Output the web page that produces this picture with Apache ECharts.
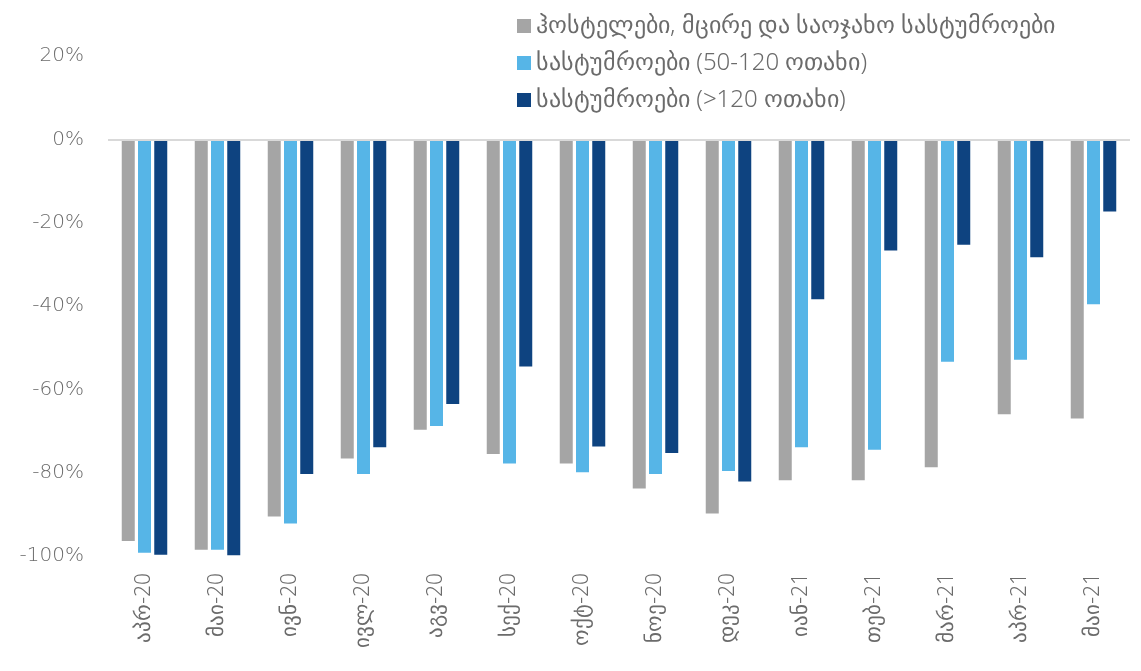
<!DOCTYPE html>
<html>
<head>
<meta charset="utf-8">
<script src="https://cdn.jsdelivr.net/npm/echarts@6/dist/echarts.min.js"></script>
<style>html,body{margin:0;padding:0;background:#fff;}#c{width:1141px;height:671px;}</style>
</head>
<body>
<div id="c"></div>
<script>
const categories = ['აპრ-20','მაი-20','ივნ-20','ივლ-20','აგვ-20','სექ-20','ოქტ-20','ნოე-20','დეკ-20','იან-21','თებ-21','მარ-21','აპრ-21','მაი-21'];
const seriesNames = ['ჰოსტელები, მცირე და საოჯახო სასტუმროები','სასტუმროები (50-120 ოთახი)','სასტუმროები (>120 ოთახი)'];
const hostels = [-96.4,-98.5,-90.5,-76.6,-69.7,-75.5,-77.8,-83.8,-89.8,-81.8,-81.8,-78.7,-66.0,-67.0];
const hotelsMid = [-99.2,-98.5,-92.2,-80.3,-68.8,-77.8,-79.9,-80.3,-79.6,-73.9,-74.5,-53.4,-52.9,-39.6];
const hotelsLarge = [-99.7,-99.8,-80.3,-73.9,-63.5,-54.5,-73.7,-75.3,-82.1,-38.4,-26.7,-25.3,-28.3,-17.3];
const yTicks = {min:-100, max:20, interval:20};
const colors = ['#A5A5A5','#56B5E7','#0E4380'];
const FONT = '"Noto Sans", sans-serif';

const chart = echarts.init(document.getElementById('c'));
const mk = (name, data, i) => ({
  name, type:'bar', data, barWidth:13, barGap:'25%',
  itemStyle:{color:colors[i]},
  ...(i===0 ? {markLine:{silent:true, symbol:'none', label:{show:false},
      lineStyle:{color:'#D9D9D9', width:2, type:'solid'}, data:[{yAxis:0}]}} : {})
});
chart.setOption({
  animation:false,
  textStyle:{fontFamily:FONT},
  color:colors,
  grid:{left:108, right:11, top:56, bottom:115},
  legend:{
    orient:'vertical', left:512, top:9, itemWidth:14, itemHeight:14, itemGap:13,
    icon:'rect', textStyle:{fontSize:24, color:'#6b6b6b', fontFamily:FONT, fontWeight:300},
    data:seriesNames
  },
  xAxis:{
    type:'category', data:categories,
    axisLine:{show:false}, axisTick:{show:false},
    axisLabel:{rotate:90, fontSize:21, color:'#6b6b6b', margin:17, fontFamily:FONT, fontWeight:300}
  },
  yAxis:{
    type:'value', min:yTicks.min, max:yTicks.max, interval:yTicks.interval,
    splitLine:{show:false}, axisLine:{show:false}, axisTick:{show:false},
    axisLabel:{formatter:'{value}%', fontSize:20, color:'#6b6b6b', margin:24,
      fontFamily:'"DejaVu Sans", sans-serif', fontWeight:200}
  },
  series:[mk(seriesNames[0],hostels,0), mk(seriesNames[1],hotelsMid,1), mk(seriesNames[2],hotelsLarge,2)]
});
</script>
</body>
</html>
